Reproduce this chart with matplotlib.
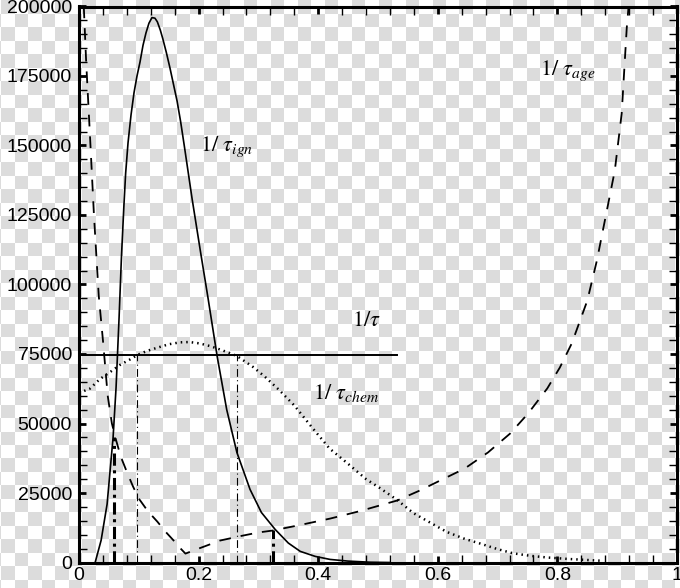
import numpy as np
import matplotlib
matplotlib.use("Agg")
import matplotlib.pyplot as plt
from matplotlib.ticker import MultipleLocator, FuncFormatter

plt.rcParams['font.family'] = ['Liberation Sans', 'DejaVu Sans']
plt.rcParams['mathtext.fontset'] = 'stix'

# 1/tau_ign (solid)
x_ign = [0.027, 0.037, 0.047, 0.057, 0.062, 0.067, 0.071, 0.075, 0.078, 0.082, 0.087,
         0.092, 0.097, 0.102, 0.107, 0.112, 0.117, 0.122, 0.127, 0.131, 0.136, 0.140,
         0.146, 0.152, 0.158, 0.164, 0.170, 0.176, 0.189, 0.203, 0.216, 0.231, 0.247,
         0.264, 0.286, 0.305, 0.328, 0.350, 0.370, 0.395, 0.420, 0.450, 0.487, 0.520]
y_ign = [0, 8000, 21000, 45000, 63000, 88000, 110000, 128000, 140000, 151000, 161000,
         169000, 175000, 180000, 186000, 190500, 194000, 196000, 195800, 194500, 191500, 188500,
         183500, 178000, 172000, 166000, 158500, 150000, 131000, 112000, 94800, 74200, 55000,
         39600, 26300, 18000, 11900, 7000, 4000, 2200, 1100, 500, 100, 0]

# 1/tau_chem (dotted)
x_chem = [0.0, 0.018, 0.035, 0.052, 0.068, 0.085, 0.099, 0.115, 0.130, 0.150, 0.169,
          0.185, 0.202, 0.220, 0.240, 0.264, 0.290, 0.310, 0.335, 0.360, 0.390, 0.419,
          0.450, 0.480, 0.503, 0.532, 0.559, 0.586, 0.615, 0.645, 0.671, 0.700, 0.726,
          0.755, 0.783, 0.816, 0.850, 0.876]
y_chem = [61000, 62500, 66000, 68500, 71000, 73000, 74800, 76200, 77200, 78500, 79200,
          79300, 78800, 77800, 76300, 74300, 70500, 67000, 62000, 56500, 48500, 41000,
          35500, 30000, 26800, 22500, 17800, 14500, 11000, 8500, 6800, 4800, 3300,
          2400, 1800, 1300, 900, 600]

# 1/tau_age (dashed)
x_age = [0.008, 0.012, 0.018, 0.025, 0.033, 0.040, 0.048, 0.055, 0.062, 0.070, 0.080,
         0.090, 0.100, 0.115, 0.131, 0.145, 0.160, 0.170, 0.178, 0.190, 0.210, 0.236,
         0.270, 0.300, 0.324, 0.370, 0.420, 0.470, 0.532, 0.570, 0.604, 0.645, 0.684,
         0.721, 0.751, 0.783, 0.804, 0.824, 0.850, 0.866, 0.885, 0.896, 0.9075, 0.916, 0.921]
y_age = [200000, 180000, 155000, 125000, 96000, 80000, 60000, 50000, 44000, 38000, 32600,
         27500, 23000, 18500, 14700, 11000, 7500, 5000, 3200, 4200, 5800, 7900,
         9500, 10800, 11500, 13500, 15800, 18500, 22300, 25900, 29500, 33800, 39600,
         46400, 53600, 62600, 70100, 78800, 94200, 108600, 129100, 141000, 161500, 192400, 205000]

tau_level = 74500
tau_xmax = 0.532
thin_marks = [0.097, 0.264]
thick_marks = [0.058, 0.324]
thick_tops = [45000, 11800]

fig = plt.figure(figsize=(6.8, 5.88), dpi=100)

# transparent-looking checker background
H, W = 588, 680
cols = np.floor((np.arange(W) - 1) / 13.47).astype(int)
rows = np.floor(np.arange(H) / 13.47).astype(int)
chk = ((rows[:, None] + cols[None, :]) % 2 == 0)
bg = np.where(chk, 0.865, 1.0)
fig.figimage(np.dstack([bg, bg, bg]), xo=0, yo=0, origin='upper', zorder=-10)

ax = fig.add_axes([79 / 680, 25.5 / 588, 598 / 680, 556 / 588])
ax.set_facecolor('none')

ax.plot(x_ign, y_ign, color='black', lw=1.2)
ax.plot(x_chem, y_chem, color='black', lw=1.8, linestyle=(0, (0.6, 1.6)))
ax.plot(x_age, y_age, color='black', lw=1.3, linestyle=(0, (6.5, 5.5)))
ax.plot([0, tau_xmax], [tau_level, tau_level], color='black', lw=1.4)

for xm in thin_marks:
    ax.plot([xm, xm], [0, tau_level], color='black', lw=0.8, linestyle=(0, (7, 3, 1, 3)))
for xm, top in zip(thick_marks, thick_tops):
    ax.plot([xm, xm], [0, top], color='black', lw=2.2, linestyle=(0, (4, 1.5, 1, 1.5)))

tfont = dict(fontsize=16, color='black', ha='left', va='baseline')
ax.text(0.202, 148000, r'$1/\ \tau_{ign}$', **tfont)
ax.text(0.771, 175500, r'$1/\ \tau_{age}$', **tfont)
ax.text(0.456, 85000, r'$1/\tau$', **tfont)
ax.text(0.391, 58700, r'$1/\ \tau_{chem}$', **tfont)

ax.set_xlim(0, 1)
ax.set_ylim(0, 200000)
ax.xaxis.set_major_locator(MultipleLocator(0.2))
ax.xaxis.set_minor_locator(MultipleLocator(0.04))
ax.yaxis.set_major_locator(MultipleLocator(25000))
ax.yaxis.set_minor_locator(MultipleLocator(5000))
ax.xaxis.set_major_formatter(FuncFormatter(lambda v, p: '%g' % round(v, 2)))
ax.yaxis.set_major_formatter(FuncFormatter(lambda v, p: '%d' % v))

ax.tick_params(which='both', direction='in', top=True, right=True, labelsize=14)
ax.tick_params(which='major', length=5, width=2)
ax.tick_params(which='minor', length=6, width=1)
ax.tick_params(axis='y', pad=5)
ax.tick_params(axis='x', pad=3.5)
for sp in ax.spines.values():
    sp.set_linewidth(2.2)

fig.savefig('out.png', dpi=100)
